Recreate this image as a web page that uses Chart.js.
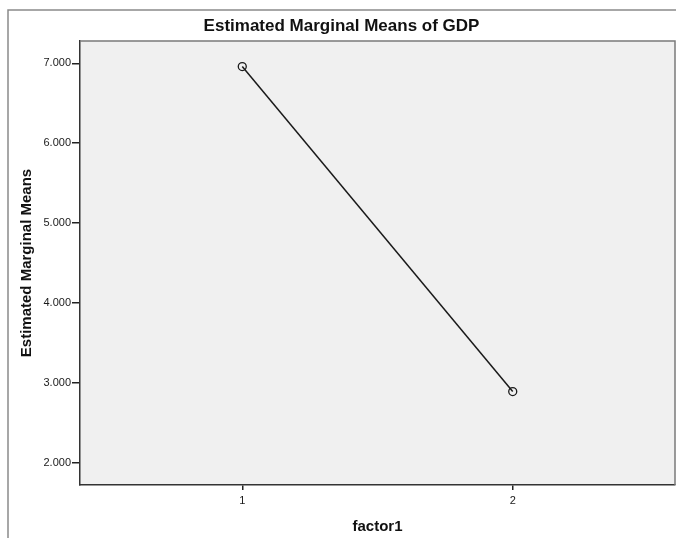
<!DOCTYPE html>
<html>
<head>
<meta charset="utf-8">
<title>Estimated Marginal Means of GDP</title>
<script src="https://cdn.jsdelivr.net/npm/chart.js@4"></script>
<style>
    html, body { margin: 0; padding: 0; background: #ffffff; }
    #wrap { width: 676px; height: 538px; }
</style>
</head>
<body>
<div id="wrap"><canvas id="graph1"></canvas></div>
<script>
// Datos
const factorLevels = [1, 2];
const gdpMeans = [6.96, 2.89];
const yTickValues = [2, 3, 4, 5, 6, 7];
const xTickValues = [1, 2];

const FONT = "'Liberation Sans', Arial, sans-serif";

// Fondo gris del área del gráfico y marco exterior
const plotFrame = {
    id: 'plotFrame',
    beforeDraw(chart) {
        const ctx = chart.ctx;
        const a = chart.chartArea;
        ctx.save();
        ctx.fillStyle = '#f0f0f0';
        ctx.fillRect(a.left, a.top, a.right - a.left, a.bottom - a.top);

        // marco exterior (izquierda y arriba)
        ctx.strokeStyle = '#8a8a8a';
        ctx.lineWidth = 1.5;
        ctx.beginPath();
        ctx.moveTo(8, chart.height);
        ctx.lineTo(8, 10);
        ctx.lineTo(chart.width, 10);
        ctx.stroke();
        ctx.restore();
    },
    afterDraw(chart) {
        const ctx = chart.ctx;
        const a = chart.chartArea;
        ctx.save();
        ctx.strokeStyle = '#7a7a7a';
        ctx.lineWidth = 1.5;
        ctx.beginPath();
        ctx.moveTo(a.left, a.top);
        ctx.lineTo(a.right, a.top);
        ctx.lineTo(a.right, a.bottom);
        ctx.stroke();
        ctx.restore();
    }
};

document.addEventListener('DOMContentLoaded', function () {
    const ctx1 = document.getElementById('graph1').getContext('2d');

    new Chart(ctx1, {
        type: 'line',
        data: {
            datasets: [{
                label: 'GDP',
                data: factorLevels.map((f, i) => ({ x: f, y: gdpMeans[i] })),
                borderColor: '#1a1a1a',
                borderWidth: 1.5,
                pointRadius: 4,
                pointBorderWidth: 1.3,
                pointBorderColor: '#1a1a1a',
                pointBackgroundColor: 'rgba(0,0,0,0)',
                tension: 0
            }]
        },
        options: {
            responsive: true,
            maintainAspectRatio: false,
            animation: false,
            layout: {
                autoPadding: false,
                padding: { left: 8, top: 10, right: 1, bottom: 0 }
            },
            plugins: {
                legend: { display: false },
                tooltip: { enabled: false },
                title: {
                    display: true,
                    text: 'Estimated Marginal Means of GDP',
                    color: '#111111',
                    font: { family: FONT, size: 17, weight: 'bold', lineHeight: 1.2 },
                    padding: { top: 6, bottom: 4.6 }
                }
            },
            scales: {
                x: {
                    type: 'linear',
                    min: 0.4,
                    max: 2.6,
                    afterBuildTicks: (scale) => {
                        scale.ticks = xTickValues.map(v => ({ value: v }));
                    },
                    afterFit: (scale) => { scale.height = 53; },
                    grid: {
                        drawOnChartArea: false,
                        drawTicks: true,
                        tickLength: 5,
                        color: '#222222',
                        lineWidth: 1.5
                    },
                    border: { display: true, color: '#333333', width: 1.5 },
                    ticks: {
                        color: '#1a1a1a',
                        padding: 4,
                        font: { family: FONT, size: 11 },
                        callback: (v) => String(v)
                    },
                    title: {
                        display: true,
                        text: 'factor1',
                        color: '#111111',
                        font: { family: FONT, size: 15, weight: 'bold', lineHeight: 1.2 },
                        padding: { top: 0, bottom: 2.5 }
                    }
                },
                y: {
                    min: 1.72,
                    max: 7.28,
                    afterBuildTicks: (scale) => {
                        scale.ticks = yTickValues.map(v => ({ value: v }));
                    },
                    afterFit: (scale) => { scale.width = 72; },
                    grid: {
                        drawOnChartArea: false,
                        drawTicks: true,
                        tickLength: 8,
                        color: '#222222',
                        lineWidth: 1.5
                    },
                    border: { display: true, color: '#333333', width: 1.5 },
                    ticks: {
                        color: '#1a1a1a',
                        padding: 1,
                        font: { family: FONT, size: 11 },
                        callback: (v) => Number(v).toFixed(3)
                    },
                    title: {
                        display: true,
                        text: 'Estimated Marginal Means',
                        color: '#111111',
                        font: { family: FONT, size: 15, weight: 'bold', lineHeight: 1.2 },
                        padding: { top: 10, bottom: 0 }
                    }
                }
            }
        },
        plugins: [plotFrame]
    });
});
</script>
</body>
</html>
